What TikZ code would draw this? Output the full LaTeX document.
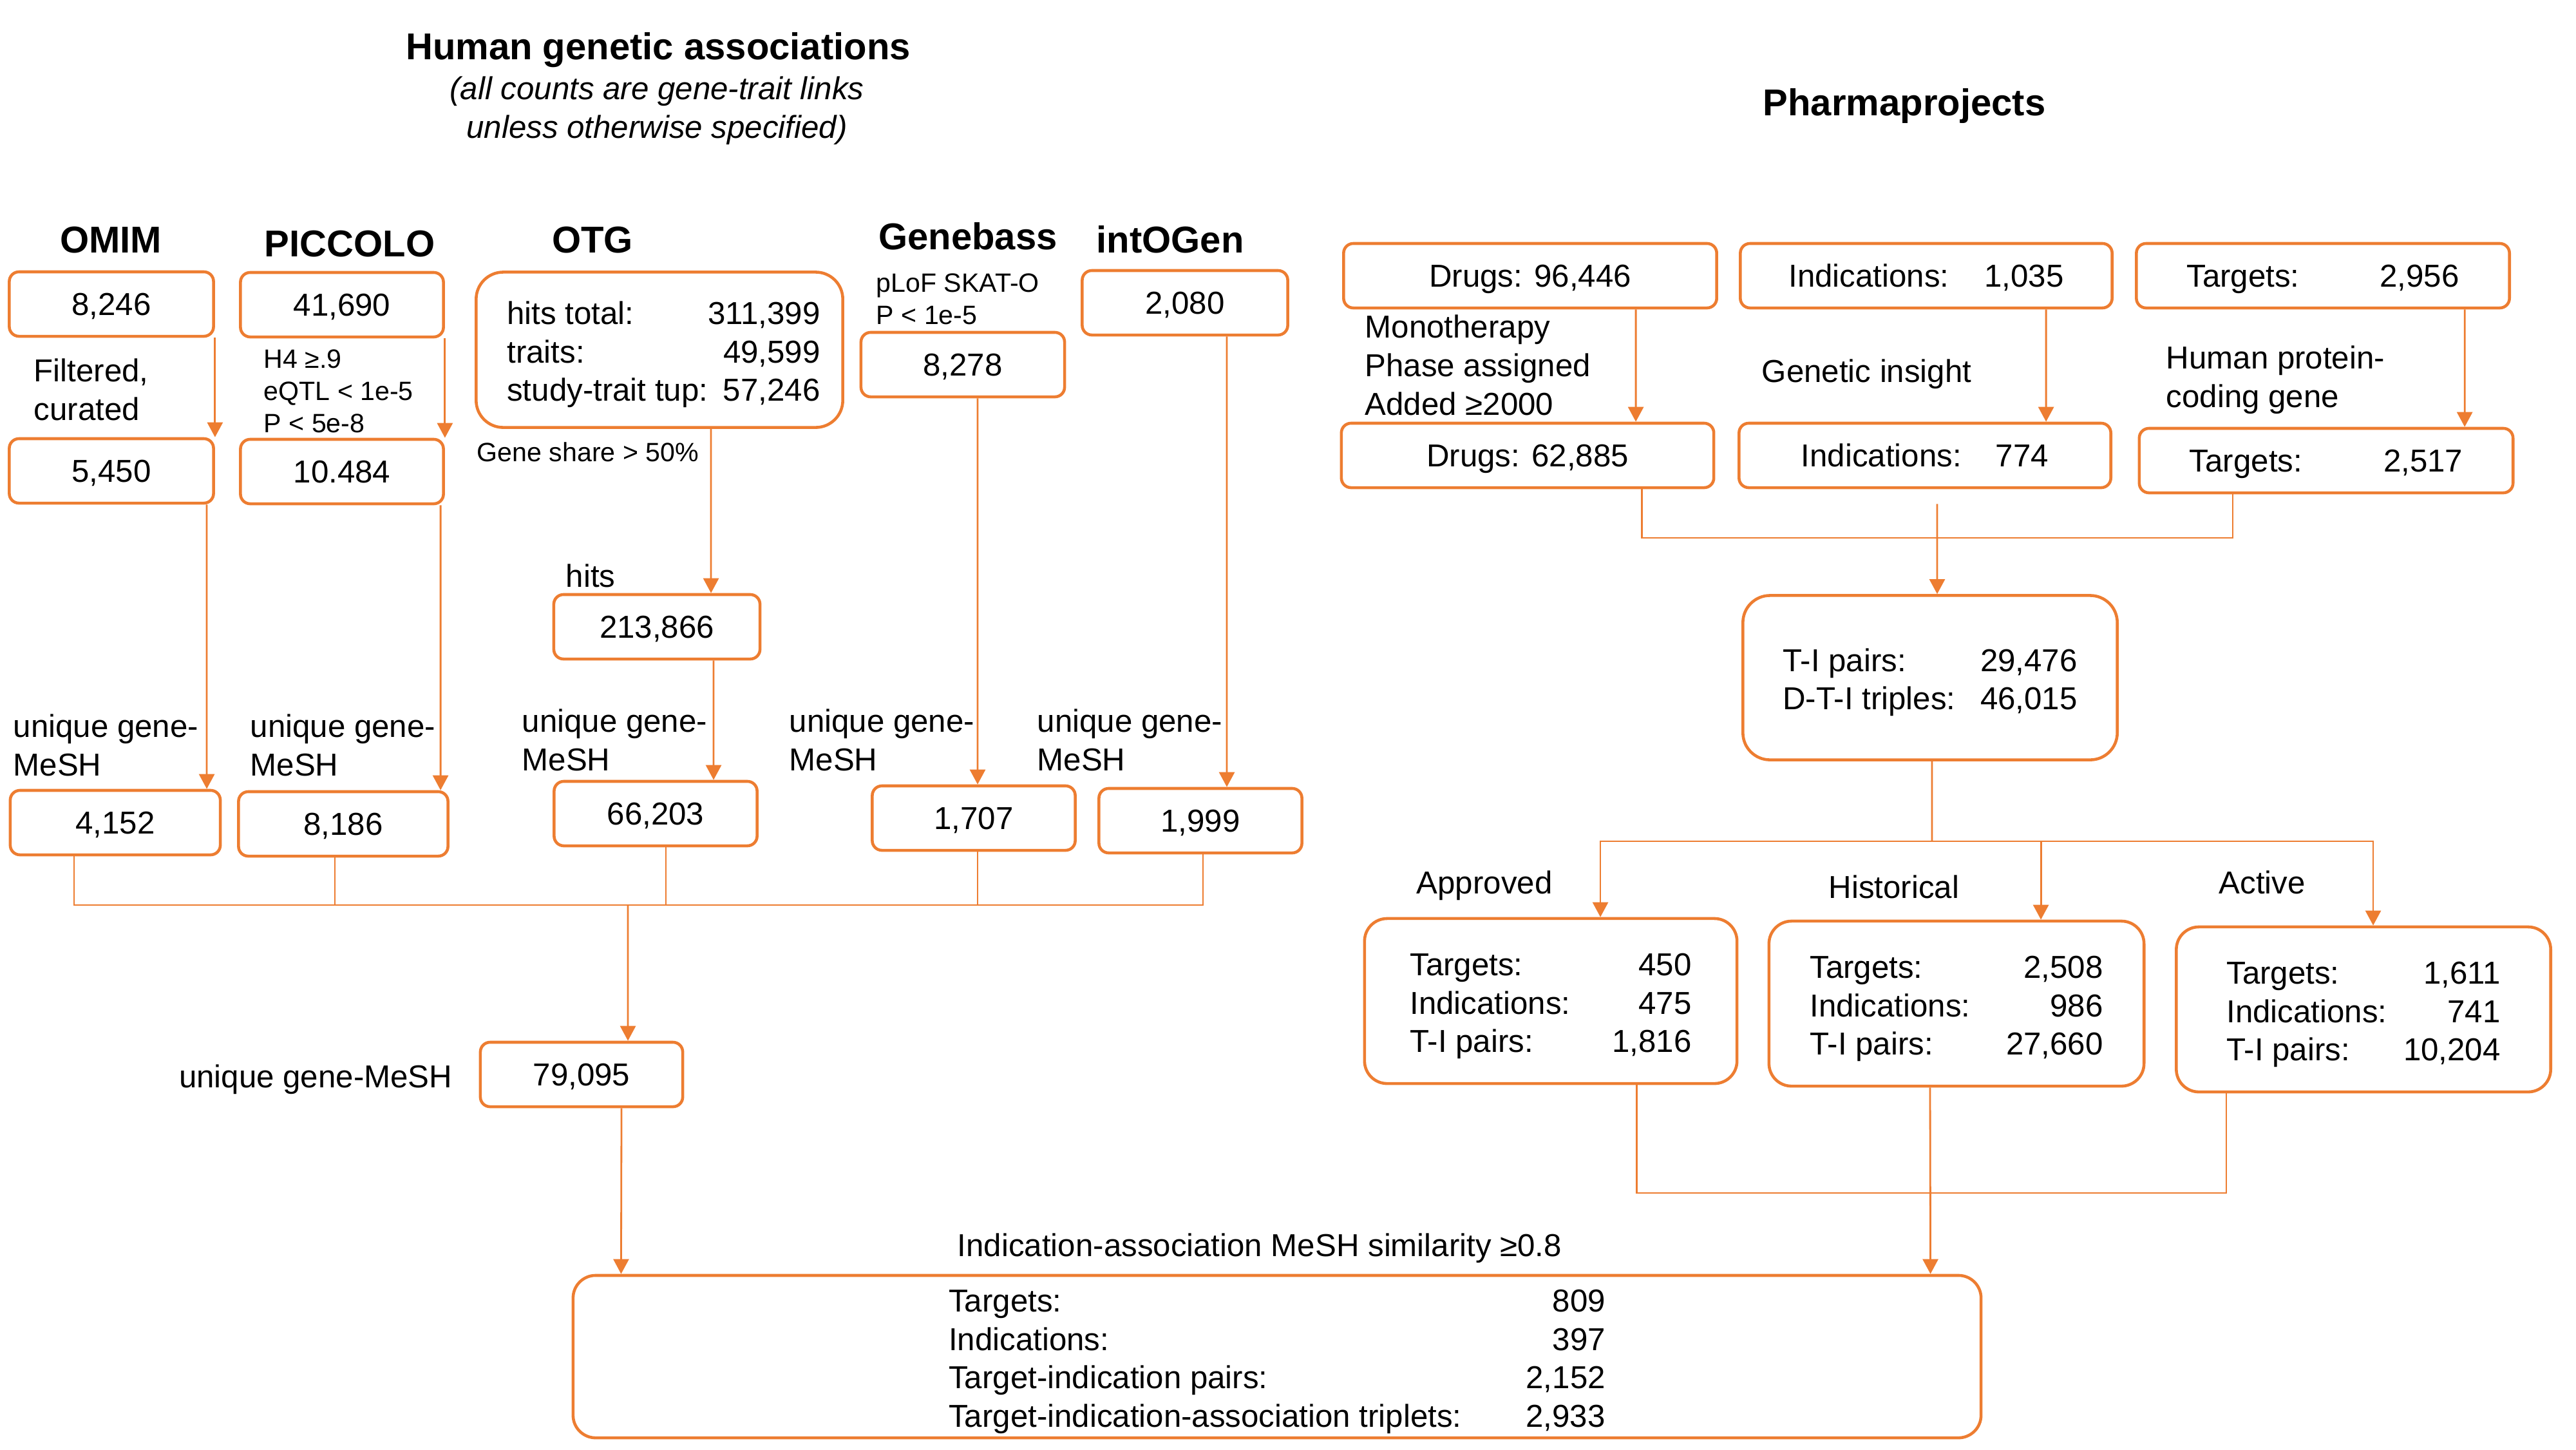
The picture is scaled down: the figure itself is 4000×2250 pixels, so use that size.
\documentclass[tikz,border=0pt]{standalone}
\usepackage{fontspec}
\setmainfont{Liberation Sans}
\usetikzlibrary{arrows.meta}
\definecolor{ppOrange}{HTML}{ED7D31}
\newcommand{\fsMain}{\fontsize{14}{17}\selectfont}
\newcommand{\fsSmall}{\fontsize{11.7}{14.2}\selectfont}
\newcommand{\fsHead}{\fontsize{16.5}{20}\selectfont\bfseries}
% two-column count table inside a box
\newcommand{\statrows}[2]{\raisebox{-2.3pt}[\height][\depth]{\begin{tabular*}{#1}{@{}l@{\extracolsep{\fill}}r@{}}#2\end{tabular*}}}
\tikzset{
  cntbox/.style={draw=ppOrange, line width=1.3pt, rounded corners=0.15cm, minimum width=3.17cm, minimum height=1cm, inner sep=0pt, font=\fsMain, text height=10pt, text depth=0pt},
  bigbox/.style={draw=ppOrange, line width=1.3pt, rounded corners=0.42cm, inner sep=0pt, font=\fsMain},
  hdr/.style={font=\fsHead, anchor=base, inner sep=0pt},
  lbl/.style={font=\fsMain, anchor=base west, inner sep=0pt, align=left},
  note/.style={font=\fsSmall, anchor=base west, inner sep=0pt, align=left},
  link/.style={draw=ppOrange, line width=0.8pt},
  arr/.style={link, -{Triangle[length=0.23cm, width=0.24cm]}},
}
\begin{document}
\begin{tikzpicture}[x=0.01cm, y=-0.01cm]
\useasboundingbox (0,0) rectangle (4000,2250);

% titles (multi-line nodes sit on their last baseline)
\node[hdr] (gaTitle) at (1022,92) {Human genetic associations};
\node[font=\fsMain\itshape, anchor=base, inner sep=0pt, align=center] (gaSub) at (1020,214) {(all counts are gene-trait links\\unless otherwise specified)};
\node[hdr] (ppTitle) at (2957,179) {Pharmaprojects};

% source headers
\node[hdr] (hOmim) at (172,392) {OMIM};
\node[hdr] (hPic) at (543,398) {PICCOLO};
\node[hdr] (hOtg) at (920,392) {OTG};
\node[hdr] (hGb) at (1503,387) {Genebass};
\node[hdr] (hInt) at (1817,392) {intOGen};

% genetic association boxes
\node[cntbox] (omimA) at (173,472) {8,246};
\node[cntbox] (omimB) at (173,731) {5,450};
\node[cntbox, minimum width=3.26cm] (omimC) at (179,1277) {4,152};
\node[cntbox, minimum width=3.15cm] (picA) at (531,473) {41,690};
\node[cntbox, minimum width=3.15cm] (picB) at (531,732) {10.484};
\node[cntbox, minimum width=3.25cm] (picC) at (533,1279) {8,186};
\node[bigbox, minimum width=5.69cm, minimum height=2.41cm] (otgA) at (1024,543)
  {\statrows{4.73cm}{hits total: & 311,399\\ traits: & 49,599\\ study-trait tup: & 57,246}};
\node[cntbox, minimum width=3.2cm] (otgB) at (1020,973) {213,866};
\node[cntbox, minimum width=3.15cm] (otgC) at (1018,1263) {66,203};
\node[cntbox, minimum width=3.16cm] (gbA) at (1495,566) {8,278};
\node[cntbox, minimum width=3.15cm] (gbC) at (1512,1270) {1,707};
\node[cntbox, minimum width=3.19cm] (intA) at (1840,470) {2,080};
\node[cntbox, minimum width=3.15cm] (intC) at (1864,1274) {1,999};
\node[cntbox, minimum width=3.14cm] (total) at (903,1668) {79,095};

% filter notes
\node[lbl] (omimNote) at (52,652) {Filtered,\\curated};
\node[note] (picNote) at (409,671) {H4 ≥.9\\eQTL < 1e-5\\P < 5e-8};
\node[note] (otgNote) at (740,716) {Gene share > 50\%};
\node[note] (gbNote) at (1360,503) {pLoF SKAT-O\\P < 1e-5};
\node[lbl] (hitsLbl) at (878,911) {hits};
\foreach \x/\y/\n in {20/1204/omim, 388/1204/pic, 810/1196/otg, 1225/1196/gb, 1610/1196/int}
  \node[lbl] (uq\n) at (\x,\y) {unique gene-\\MeSH};
\node[font=\fsMain, anchor=base east, inner sep=0pt] (totalLbl) at (703,1688) {unique gene-MeSH};

% pharmaprojects boxes
\node[cntbox, minimum width=5.79cm] (drugA) at (2376,428) {Drugs: 96,446};
\node[cntbox, minimum width=5.77cm] (indA) at (2991,428) {Indications:\hspace{0.55cm}1,035};
\node[cntbox, minimum width=5.79cm] (tgtA) at (3607,428) {Targets:\hspace{1.25cm}2,956};
\node[cntbox, minimum width=5.78cm] (drugB) at (2372,707) {Drugs: 62,885};
\node[cntbox, minimum width=5.77cm] (indB) at (2989,707) {Indications:\hspace{0.53cm}774};
\node[cntbox, minimum width=5.8cm] (tgtB) at (3612,715) {Targets:\hspace{1.26cm}2,517};
\node[lbl] (drugNote) at (2119,644) {Monotherapy\\Phase assigned\\Added ≥2000};
\node[lbl] (indNote) at (2735,593) {Genetic insight};
\node[lbl] (tgtNote) at (3363,632) {Human protein-\\coding gene};

\node[bigbox, minimum width=5.81cm, minimum height=2.55cm] (tipairs) at (2997,1052)
  {\statrows{4.57cm}{T-I pairs: & 29,476\\ D-T-I triples: & 46,015}};
\node[bigbox, rounded corners=0.35cm, minimum width=5.78cm, minimum height=2.56cm] (appr) at (2408,1554)
  {\statrows{4.37cm}{Targets: & 450\\ Indications: & 475\\ T-I pairs: & 1,816}};
\node[bigbox, rounded corners=0.35cm, minimum width=5.82cm, minimum height=2.56cm] (hist) at (3038,1558)
  {\statrows{4.55cm}{Targets: & 2,508\\ Indications: & 986\\ T-I pairs: & 27,660}};
\node[bigbox, rounded corners=0.35cm, minimum width=5.81cm, minimum height=2.56cm] (actv) at (3670,1567)
  {\statrows{4.25cm}{Targets: & 1,611\\ Indications: & 741\\ T-I pairs: & 10,204}};
\node[lbl] (apprLbl) at (2199,1387) {Approved};
\node[lbl] (histLbl) at (2839,1394) {Historical};
\node[lbl] (actvLbl) at (3445,1387) {Active};

% final overlap box
\node[font=\fsMain, anchor=base, inner sep=0pt] (simLbl) at (1956,1950) {Indication-association MeSH similarity ≥0.8};
\node[bigbox, rounded corners=0.35cm, minimum width=21.85cm, minimum height=2.52cm] (final) at (1983,2106)
  {\statrows{10.19cm}{Targets: & 809\\ Indications: & 397\\ Target-indication pairs: & 2,152\\ Target-indication-association triplets: & 2,933}};

% join points
\coordinate (gjoin) at (975,1405);
\coordinate (pjoin) at (3008,835);
\coordinate (psplit) at (3000,1306);
\coordinate (pmerge) at (2997,1852);

% left connectors
\draw[arr] (omimA.south east) -- (omimB.north east);
\draw[arr] (picA.south east) -- (picB.north east);
\draw[arr] ([xshift=1.48cm]omimB.south) -- ([xshift=1.42cm]omimC.north);
\draw[arr] ([xshift=1.53cm]picB.south) -- ([xshift=1.51cm]picC.north);
\draw[arr] ([xshift=0.8cm]otgA.south) -- ([xshift=0.84cm]otgB.north);
\draw[arr] ([xshift=0.88cm]otgB.south) -- ([xshift=0.9cm]otgC.north);
\draw[arr] ([xshift=0.23cm]gbA.south) -- ([xshift=0.06cm]gbC.north);
\draw[arr] ([xshift=0.65cm]intA.south) -- ([xshift=0.41cm]intC.north);
\draw[link] ([xshift=-0.64cm]omimC.south) |- (gjoin);
\draw[link] ([xshift=-0.13cm]picC.south) |- (gjoin);
\draw[link] ([xshift=0.16cm]otgC.south) |- (gjoin);
\draw[link] ([xshift=0.06cm]gbC.south) |- (gjoin);
\draw[link] ([xshift=0.04cm]intC.south) |- (gjoin);
\draw[arr] (gjoin) -- ([xshift=0.72cm]total.north);
\draw[arr] ([xshift=0.62cm]total.south) -- ([xshift=-10.18cm]final.north);

% right connectors
\draw[arr] ([xshift=1.64cm]drugA.south) -- ([xshift=1.68cm]drugB.north);
\draw[arr] ([xshift=1.86cm]indA.south) -- ([xshift=1.88cm]indB.north);
\draw[arr] ([xshift=2.2cm]tgtA.south) -- ([xshift=2.15cm]tgtB.north);
\draw[link] ([xshift=1.77cm]drugB.south) |- (pjoin);
\draw[link] ([xshift=-1.45cm]tgtB.south) |- (pjoin);
\draw[arr] ([xshift=0.19cm, yshift=-0.23cm]indB.south) -- ([xshift=0.11cm]tipairs.north);
\draw[link] ([xshift=0.03cm]tipairs.south) -- (psplit);
\draw[arr] (psplit) -| ([xshift=0.77cm]appr.north);
\draw[arr] (psplit) -| ([xshift=0.15cm]actv.north);
\coordinate (histIn) at ([xshift=1.31cm]hist.north);
\draw[arr] (histIn |- psplit) -- (histIn);
\draw[link] ([xshift=1.33cm]appr.south) |- (pmerge);
\draw[link] ([xshift=-2.13cm]actv.south) |- (pmerge);
\draw[arr] ([xshift=-0.41cm]hist.south) -- ([xshift=10.14cm]final.north);
\end{tikzpicture}
\end{document}
